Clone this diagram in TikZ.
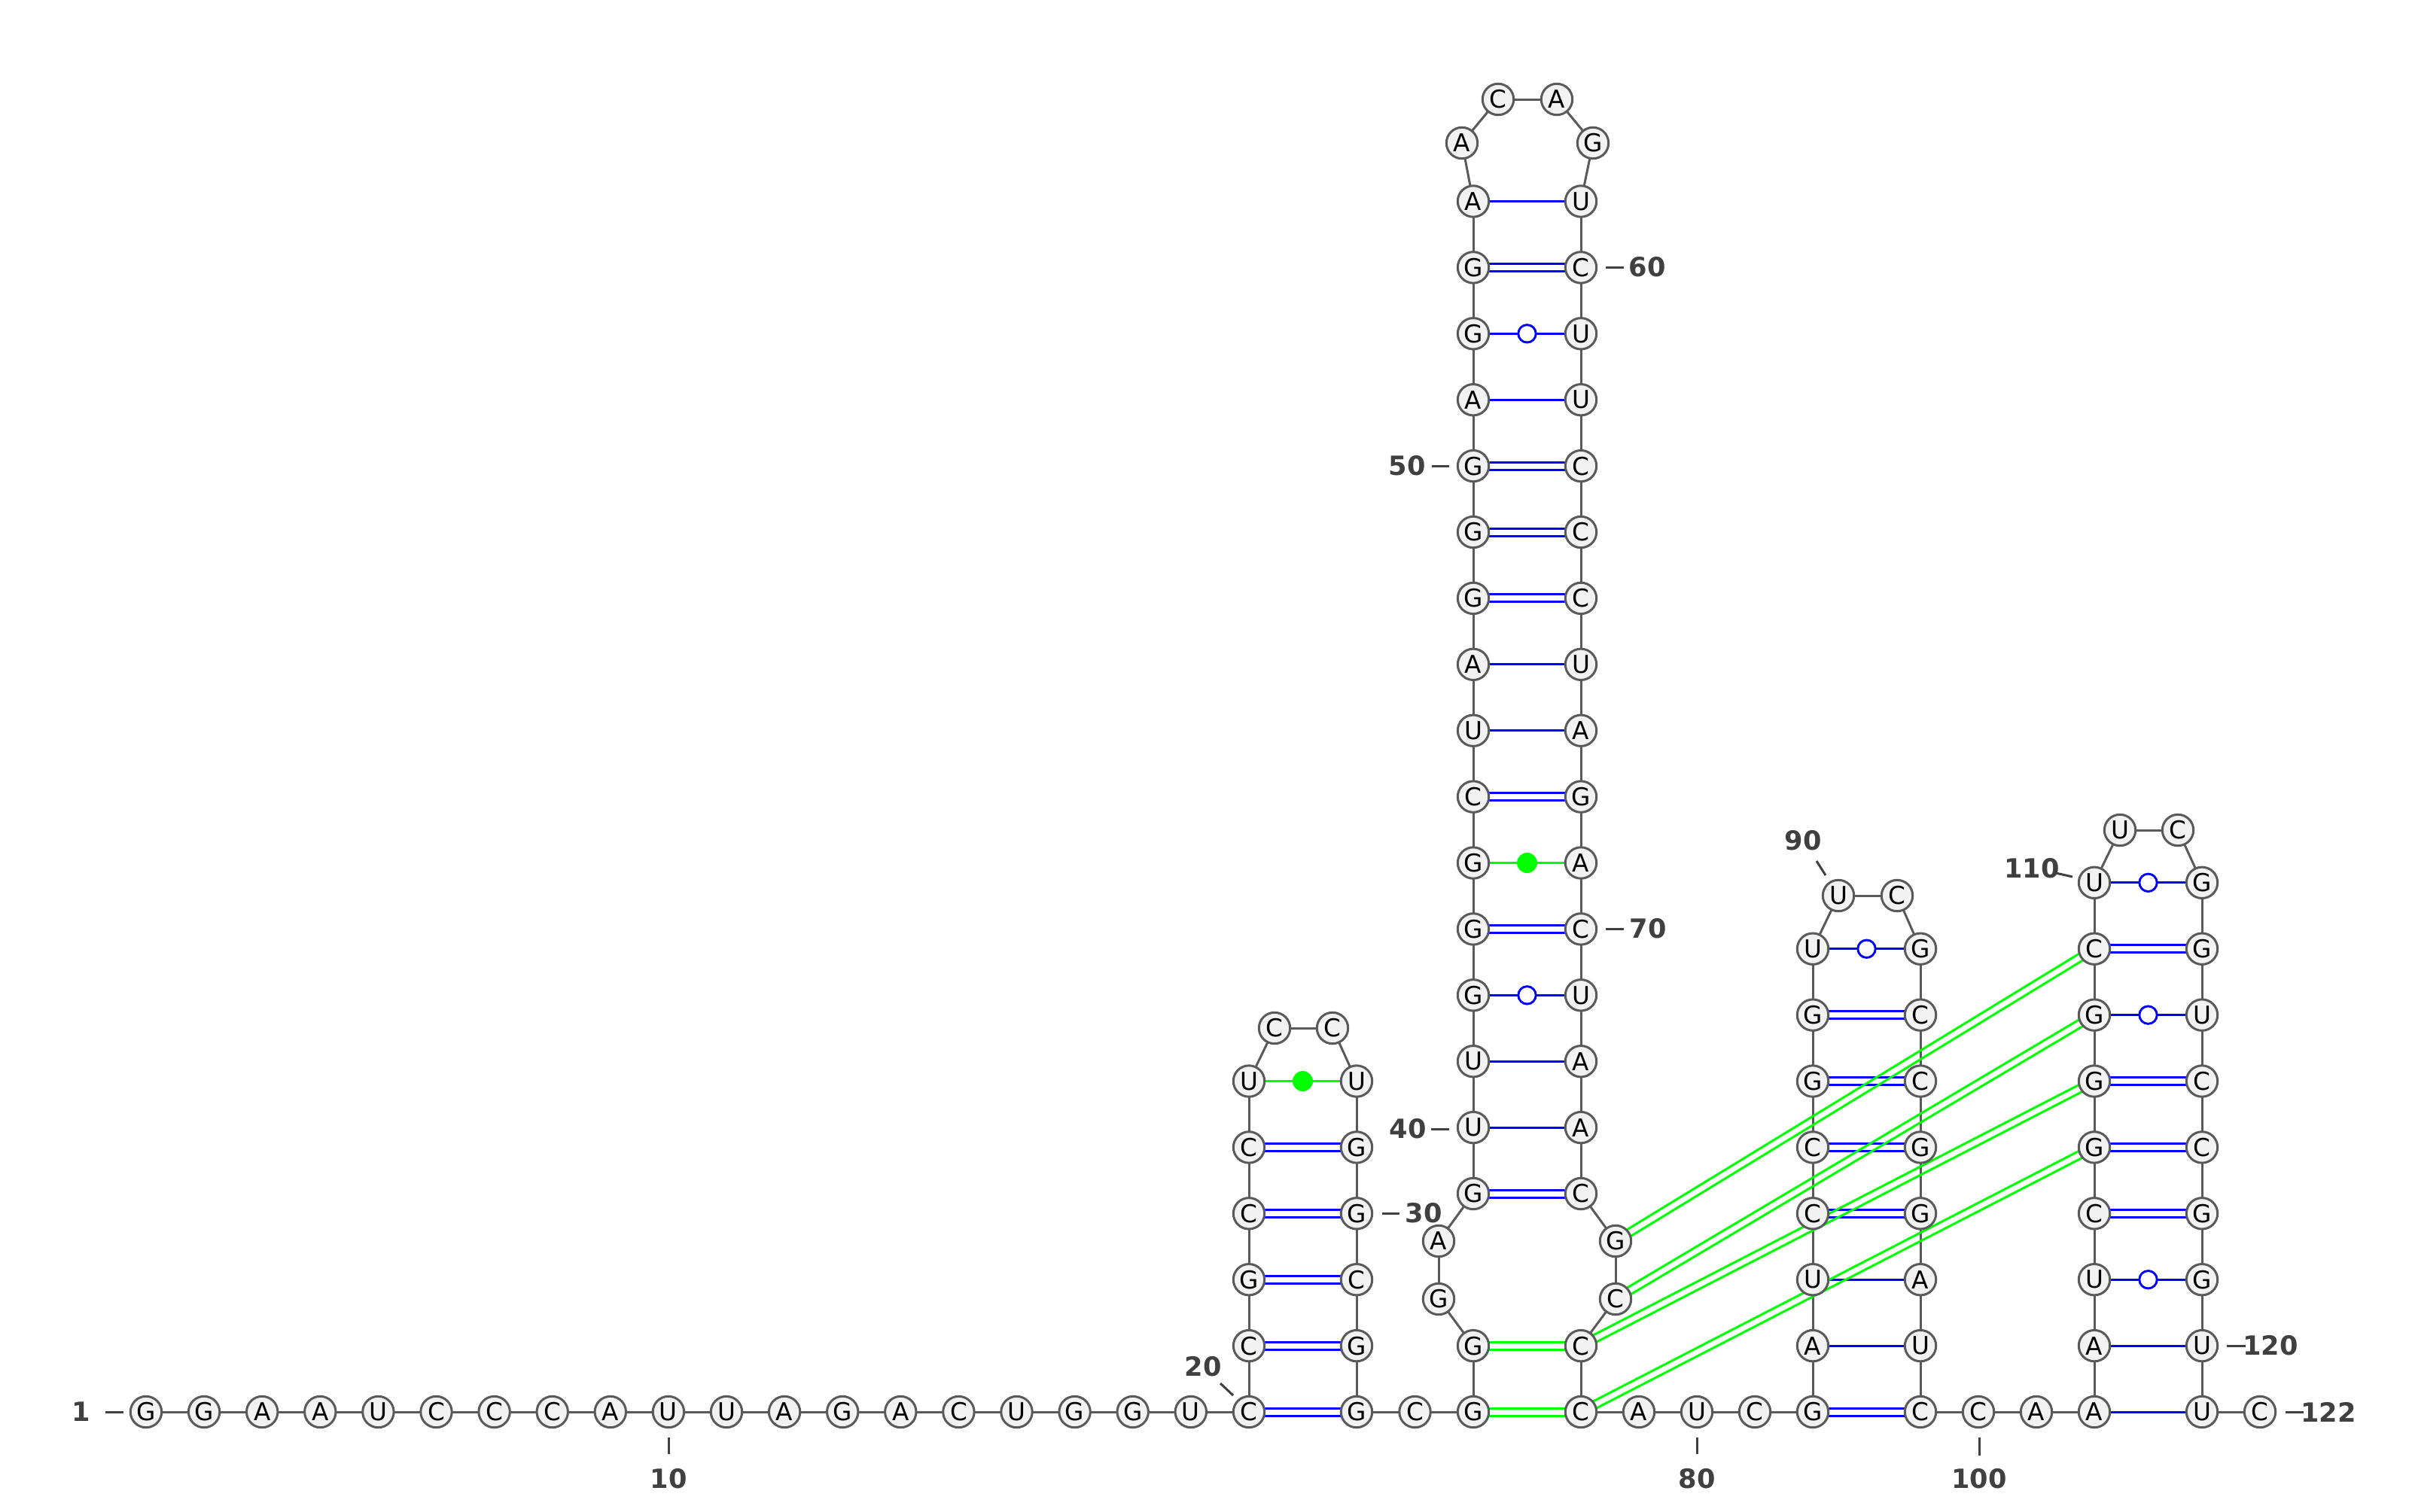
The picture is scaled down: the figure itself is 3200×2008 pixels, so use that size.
\documentclass[tikz,border=0pt]{standalone}
\usepackage{fontspec}
\setmainfont{DejaVu Sans}
\usetikzlibrary{calc}
\pgfdeclarelayer{background}
\pgfsetlayers{background,main}
\definecolor{bbgray}{HTML}{5A5A5A}
\definecolor{ntfill}{HTML}{F2F2F2}
\definecolor{lblgray}{HTML}{404040}
\definecolor{pblue}{HTML}{0000FF}
\definecolor{pgreen}{HTML}{00FF00}
\tikzset{
  nt/.style={circle, draw=bbgray, fill=ntfill, line width=0.03cm, minimum size=0.414cm, inner sep=0pt, text=black, font=\fontsize{9.3}{11}\selectfont},
  backbone/.style={draw=bbgray, line width=0.03cm},
  pairline/.style={line width=0.03cm},
  wob/.style={circle, draw=pblue, fill=white, line width=0.029cm, minimum size=0.234cm, inner sep=0pt},
  gdot/.style={circle, fill=pgreen, draw=none, minimum size=0.27cm, inner sep=0pt},
  lbl/.style={text=lblgray, font=\fontsize{10}{12}\selectfont\bfseries, inner sep=0pt},
  tickline/.style={draw=lblgray, line width=0.03cm}
}
\newcommand\nt[4]{\node[nt] (n#1) at (#3,#4) {#2};}
\newcommand\pairS[2]{\draw[pairline,pblue] (n#1.center) -- (n#2.center);}
\newcommand\pairD[3]{%
  \draw[pairline,#3] ($(n#1.center)!0.05cm!90:(n#2.center)$) -- ($(n#2.center)!0.05cm!-90:(n#1.center)$);
  \draw[pairline,#3] ($(n#1.center)!0.05cm!-90:(n#2.center)$) -- ($(n#2.center)!0.05cm!90:(n#1.center)$);}
\newcommand\pairW[2]{\draw[pairline,pblue] (n#1.center) -- (n#2.center); \node[wob] (w#1) at ($(n#1.center)!0.5!(n#2.center)$) {};}
\newcommand\pairG[2]{\draw[pairline,pgreen] (n#1.center) -- (n#2.center); \node[gdot] (g#1) at ($(n#1.center)!0.5!(n#2.center)$) {};}
\begin{document}
\begin{tikzpicture}[x=0.01cm,y=-0.01cm]
\useasboundingbox (0,0) rectangle (3200,2008);
% bottom strand 1-20
\nt{1}{G}{194}{1876}
\nt{2}{G}{271.1}{1876}
\nt{3}{A}{348.2}{1876}
\nt{4}{A}{425.3}{1876}
\nt{5}{U}{502.4}{1876}
\nt{6}{C}{579.5}{1876}
\nt{7}{C}{656.6}{1876}
\nt{8}{C}{733.7}{1876}
\nt{9}{A}{810.8}{1876}
\nt{10}{U}{887.9}{1876}
\nt{11}{U}{965}{1876}
\nt{12}{A}{1042.1}{1876}
\nt{13}{G}{1119.2}{1876}
\nt{14}{A}{1196.3}{1876}
\nt{15}{C}{1273.4}{1876}
\nt{16}{U}{1350.5}{1876}
\nt{17}{G}{1427.6}{1876}
\nt{18}{G}{1504.7}{1876}
\nt{19}{U}{1581.8}{1876}
% hairpin 1
\nt{20}{C}{1659}{1876}
\nt{21}{C}{1659}{1788.1}
\nt{22}{G}{1659}{1700.2}
\nt{23}{C}{1659}{1612.3}
\nt{24}{C}{1659}{1524.4}
\nt{25}{U}{1659}{1436.5}
\nt{26}{C}{1693}{1366}
\nt{27}{C}{1770}{1366}
\nt{28}{U}{1802}{1436.5}
\nt{29}{G}{1802}{1524.4}
\nt{30}{G}{1802}{1612.3}
\nt{31}{C}{1802}{1700.2}
\nt{32}{G}{1802}{1788.1}
\nt{33}{G}{1802}{1876}
\nt{34}{C}{1879.5}{1876}
% hairpin 2
\nt{35}{G}{1957}{1876}
\nt{36}{G}{1957}{1788.1}
\nt{37}{G}{1911}{1726}
\nt{38}{A}{1911}{1649}
\nt{39}{G}{1957}{1586}
\nt{40}{U}{1957}{1498.1}
\nt{41}{U}{1957}{1410.2}
\nt{42}{G}{1957}{1322.3}
\nt{43}{G}{1957}{1234.4}
\nt{44}{G}{1957}{1146.5}
\nt{45}{C}{1957}{1058.6}
\nt{46}{U}{1957}{970.7}
\nt{47}{A}{1957}{882.8}
\nt{48}{G}{1957}{794.9}
\nt{49}{G}{1957}{707}
\nt{50}{G}{1957}{619.1}
\nt{51}{A}{1957}{531.2}
\nt{52}{G}{1957}{443.3}
\nt{53}{G}{1957}{355.4}
\nt{54}{A}{1957}{267.5}
\nt{55}{A}{1942}{190}
\nt{56}{C}{1990}{132}
\nt{57}{A}{2068}{132}
\nt{58}{G}{2116}{190}
\nt{59}{U}{2100}{267.5}
\nt{60}{C}{2100}{355.4}
\nt{61}{U}{2100}{443.3}
\nt{62}{U}{2100}{531.2}
\nt{63}{C}{2100}{619.1}
\nt{64}{C}{2100}{707}
\nt{65}{C}{2100}{794.9}
\nt{66}{U}{2100}{882.8}
\nt{67}{A}{2100}{970.7}
\nt{68}{G}{2100}{1058.6}
\nt{69}{A}{2100}{1146.5}
\nt{70}{C}{2100}{1234.4}
\nt{71}{U}{2100}{1322.3}
\nt{72}{A}{2100}{1410.2}
\nt{73}{A}{2100}{1498.1}
\nt{74}{C}{2100}{1586}
\nt{75}{G}{2146}{1649}
\nt{76}{C}{2146}{1726}
\nt{77}{C}{2100}{1788.1}
\nt{78}{C}{2100}{1876}
\nt{79}{A}{2177}{1876}
\nt{80}{U}{2254}{1876}
\nt{81}{C}{2331}{1876}
% hairpin 3
\nt{82}{G}{2408}{1876}
\nt{83}{A}{2408}{1788.1}
\nt{84}{U}{2408}{1700.2}
\nt{85}{C}{2408}{1612.3}
\nt{86}{C}{2408}{1524.4}
\nt{87}{G}{2408}{1436.5}
\nt{88}{G}{2408}{1348.6}
\nt{89}{U}{2408}{1260.7}
\nt{90}{U}{2442}{1190}
\nt{91}{C}{2520}{1190}
\nt{92}{G}{2551}{1260.7}
\nt{93}{C}{2551}{1348.6}
\nt{94}{C}{2551}{1436.5}
\nt{95}{G}{2551}{1524.4}
\nt{96}{G}{2551}{1612.3}
\nt{97}{A}{2551}{1700.2}
\nt{98}{U}{2551}{1788.1}
\nt{99}{C}{2551}{1876}
\nt{100}{C}{2628}{1876}
\nt{101}{A}{2705}{1876}
% hairpin 4
\nt{102}{A}{2782}{1876}
\nt{103}{A}{2782}{1788.1}
\nt{104}{U}{2782}{1700.2}
\nt{105}{C}{2782}{1612.3}
\nt{106}{G}{2782}{1524.4}
\nt{107}{G}{2782}{1436.5}
\nt{108}{G}{2782}{1348.6}
\nt{109}{C}{2782}{1260.7}
\nt{110}{U}{2782}{1172.8}
\nt{111}{U}{2816}{1103}
\nt{112}{C}{2893}{1103}
\nt{113}{G}{2925}{1172.8}
\nt{114}{G}{2925}{1260.7}
\nt{115}{U}{2925}{1348.6}
\nt{116}{C}{2925}{1436.5}
\nt{117}{C}{2925}{1524.4}
\nt{118}{G}{2925}{1612.3}
\nt{119}{G}{2925}{1700.2}
\nt{120}{U}{2925}{1788.1}
\nt{121}{U}{2925}{1876}
\nt{122}{C}{3002}{1876}
% number labels
\node[lbl] (l1) at (108,1876) {1};
\node[lbl] (l10) at (888,1965) {10};
\node[lbl] (l20) at (1598,1816) {20};
\node[lbl] (l30) at (1891,1612) {30};
\node[lbl] (l40) at (1870,1500) {40};
\node[lbl] (l50) at (1869,619) {50};
\node[lbl] (l60) at (2188,355) {60};
\node[lbl] (l70) at (2189,1234) {70};
\node[lbl] (l80) at (2254,1965) {80};
\node[lbl] (l90) at (2395,1117) {90};
\node[lbl] (l100) at (2629,1965) {100};
\node[lbl] (l110) at (2699,1154) {110};
\node[lbl] (l120) at (3016,1788) {120};
\node[lbl] (l122) at (3093,1876) {122};
% tick coordinates
\coordinate (t1a) at (140,1876); \coordinate (t1b) at (164,1876);
\coordinate (t10a) at (888,1910); \coordinate (t10b) at (888,1932);
\coordinate (t20a) at (1621,1838); \coordinate (t20b) at (1638,1854);
\coordinate (t30a) at (1836,1612); \coordinate (t30b) at (1859,1612);
\coordinate (t40a) at (1901,1500); \coordinate (t40b) at (1925,1500);
\coordinate (t50a) at (1902,619); \coordinate (t50b) at (1925,619);
\coordinate (t60a) at (2133,355); \coordinate (t60b) at (2157,355);
\coordinate (t70a) at (2133,1234); \coordinate (t70b) at (2157,1234);
\coordinate (t80a) at (2254,1910); \coordinate (t80b) at (2254,1932);
\coordinate (t90a) at (2413,1144); \coordinate (t90b) at (2425,1163);
\coordinate (t100a) at (2629,1910); \coordinate (t100b) at (2629,1934);
\coordinate (t110a) at (2731,1160); \coordinate (t110b) at (2753,1165);
\coordinate (t120a) at (2958,1788); \coordinate (t120b) at (2983,1788);
\coordinate (t122a) at (3036,1876); \coordinate (t122b) at (3060,1876);
\foreach \t in {1,10,20,30,40,50,60,70,80,90,100,110,120,122}{\draw[tickline] (t\t a) -- (t\t b);}
\begin{pgfonlayer}{background}
  % backbone
  \foreach \i [evaluate=\i as \j using int(\i+1)] in {1,...,121}{\draw[backbone] (n\i.center) -- (n\j.center);}
  % hairpin 1
  \pairD{20}{33}{pblue}\pairD{21}{32}{pblue}\pairD{22}{31}{pblue}\pairD{23}{30}{pblue}\pairD{24}{29}{pblue}
  \pairG{25}{28}
  % hairpin 2
  \pairD{35}{78}{pgreen}\pairD{36}{77}{pgreen}
  \pairD{39}{74}{pblue}\pairS{40}{73}\pairS{41}{72}\pairW{42}{71}\pairD{43}{70}{pblue}
  \pairG{44}{69}
  \pairD{45}{68}{pblue}\pairS{46}{67}\pairS{47}{66}\pairD{48}{65}{pblue}\pairD{49}{64}{pblue}
  \pairD{50}{63}{pblue}\pairS{51}{62}\pairW{52}{61}\pairD{53}{60}{pblue}\pairS{54}{59}
  % hairpin 3
  \pairD{82}{99}{pblue}\pairS{83}{98}\pairS{84}{97}\pairD{85}{96}{pblue}\pairD{86}{95}{pblue}
  \pairD{87}{94}{pblue}\pairD{88}{93}{pblue}\pairW{89}{92}
  % hairpin 4
  \pairS{102}{121}\pairS{103}{120}\pairW{104}{119}\pairD{105}{118}{pblue}\pairD{106}{117}{pblue}
  \pairD{107}{116}{pblue}\pairW{108}{115}\pairD{109}{114}{pblue}\pairW{110}{113}
  % pseudoknot
  \pairD{75}{109}{pgreen}\pairD{76}{108}{pgreen}\pairD{77}{107}{pgreen}\pairD{78}{106}{pgreen}
\end{pgfonlayer}
\end{tikzpicture}
\end{document}
